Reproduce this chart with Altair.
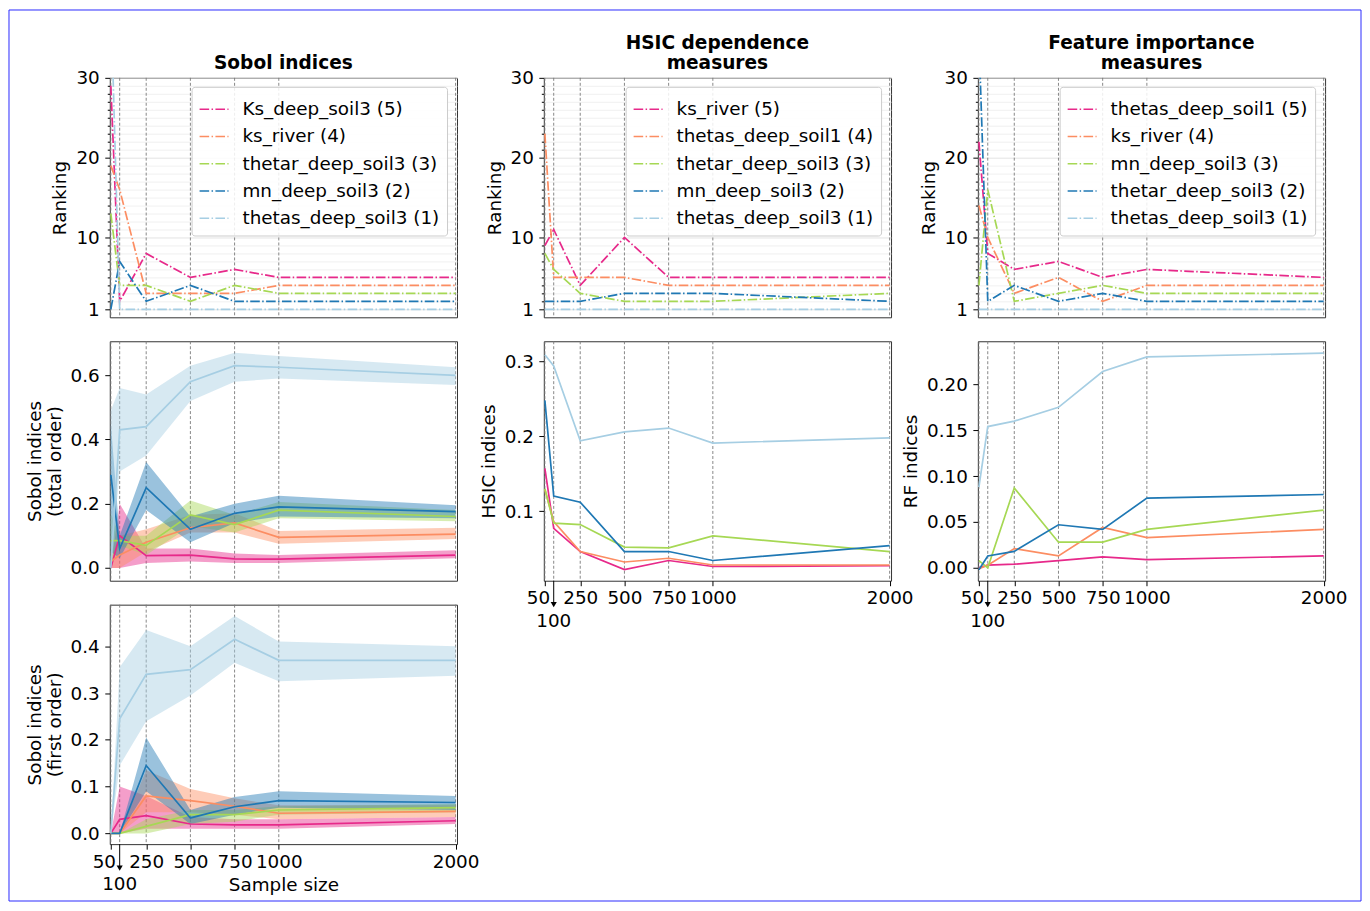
import altair as alt
import pandas as pd

FONT = "DejaVu Sans"
N = [50, 100, 250, 500, 750, 1000, 2000]
TICKS = [50, 250, 500, 750, 1000, 2000]
COLORS = ["#e7298a", "#fc8d62", "#a6d854", "#1f78b4", "#a6cee3"]

# ---------------- Sobol ----------------
SOBOL_LABELS = ["Ks_deep_soil3 (5)", "ks_river (4)", "thetar_deep_soil3 (3)",
                "mn_deep_soil3 (2)", "thetas_deep_soil3 (1)"]
sobol_rank_5 = [29, 2, 8, 5, 6, 5, 5]
sobol_rank_4 = [19, 16, 3, 3, 3, 4, 4]
sobol_rank_3 = [13, 4, 4, 2, 4, 3, 3]
sobol_rank_2 = [1, 7, 2, 4, 2, 2, 2]
sobol_rank_1 = [40, 1, 1, 1, 1, 1, 1]

st_5 = [0.0, 0.10, 0.038, 0.04, 0.028, 0.027, 0.04]
st_5_lo = [0.0, 0.0, 0.015, 0.02, 0.015, 0.015, 0.03]
st_5_hi = [0.0, 0.20, 0.06, 0.06, 0.045, 0.04, 0.055]
st_4 = [0.02, 0.04, 0.08, 0.125, 0.14, 0.095, 0.105]
st_4_lo = [0.0, 0.0, 0.05, 0.11, 0.11, 0.075, 0.09]
st_4_hi = [0.03, 0.10, 0.12, 0.165, 0.17, 0.115, 0.125]
st_3 = [0.085, 0.085, 0.07, 0.165, 0.135, 0.18, 0.16]
st_3_lo = [0.0, 0.07, 0.04, 0.13, 0.11, 0.155, 0.145]
st_3_hi = [0.17, 0.10, 0.10, 0.21, 0.165, 0.205, 0.18]
st_2 = [0.29, 0.06, 0.25, 0.12, 0.17, 0.19, 0.175]
st_2_lo = [0.05, 0.03, 0.18, 0.08, 0.14, 0.16, 0.155]
st_2_hi = [0.45, 0.10, 0.33, 0.16, 0.20, 0.225, 0.195]
st_1 = [0.0, 0.43, 0.44, 0.58, 0.63, 0.625, 0.60]
st_1_lo = [0.0, 0.30, 0.35, 0.52, 0.58, 0.59, 0.57]
st_1_hi = [0.49, 0.56, 0.54, 0.63, 0.67, 0.66, 0.625]

sf_5 = [0.0, 0.03, 0.038, 0.02, 0.018, 0.018, 0.027]
sf_5_lo = [0.0, 0.0, 0.01, 0.01, 0.01, 0.01, 0.02]
sf_5_hi = [0.0, 0.10, 0.08, 0.035, 0.03, 0.03, 0.035]
sf_4 = [0.0, 0.0, 0.08, 0.07, 0.058, 0.043, 0.047]
sf_4_lo = [0.0, 0.0, 0.045, 0.045, 0.04, 0.03, 0.035]
sf_4_hi = [0.0, 0.0, 0.135, 0.095, 0.075, 0.06, 0.06]
sf_3 = [0.0, 0.0, 0.015, 0.04, 0.04, 0.05, 0.055]
sf_3_lo = [0.0, 0.0, 0.0, 0.02, 0.025, 0.04, 0.045]
sf_3_hi = [0.0, 0.0, 0.03, 0.05, 0.05, 0.058, 0.063]
sf_2 = [0.0, 0.0, 0.145, 0.033, 0.057, 0.07, 0.066]
sf_2_lo = [0.0, 0.0, 0.09, 0.02, 0.04, 0.055, 0.05]
sf_2_hi = [0.0, 0.0, 0.205, 0.05, 0.078, 0.09, 0.08]
sf_1 = [0.0, 0.245, 0.34, 0.35, 0.415, 0.37, 0.37]
sf_1_lo = [0.0, 0.145, 0.24, 0.295, 0.365, 0.325, 0.337]
sf_1_hi = [0.0, 0.355, 0.435, 0.40, 0.465, 0.41, 0.40]

# ---------------- HSIC ----------------
HSIC_LABELS = ["ks_river (5)", "thetas_deep_soil1 (4)", "thetar_deep_soil3 (3)",
               "mn_deep_soil3 (2)", "thetas_deep_soil3 (1)"]
hsic_rank_5 = [9, 11, 4, 10, 5, 5, 5]
hsic_rank_4 = [23, 5, 5, 5, 4, 4, 4]
hsic_rank_3 = [8, 6, 3, 2, 2, 2, 3]
hsic_rank_2 = [2, 2, 2, 3, 3, 3, 2]
hsic_rank_1 = [1, 1, 1, 1, 1, 1, 1]

hsic_5 = [0.157, 0.077, 0.046, 0.022, 0.034, 0.026, 0.027]
hsic_4 = [0.129, 0.086, 0.046, 0.032, 0.037, 0.028, 0.028]
hsic_3 = [0.13, 0.084, 0.082, 0.052, 0.051, 0.067, 0.046]
hsic_2 = [0.248, 0.120, 0.112, 0.046, 0.046, 0.034, 0.054]
hsic_1 = [0.309, 0.294, 0.194, 0.206, 0.211, 0.191, 0.198]

# ---------------- RF ----------------
RF_LABELS = ["thetas_deep_soil1 (5)", "ks_river (4)", "mn_deep_soil3 (3)",
             "thetar_deep_soil3 (2)", "thetas_deep_soil3 (1)"]
rf_rank_5 = [22, 8, 6, 7, 5, 6, 5]
rf_rank_4 = [14, 10, 3, 5, 2, 4, 4]
rf_rank_3 = [4, 16, 2, 3, 4, 3, 3]
rf_rank_2 = [35, 2, 4, 2, 3, 2, 2]
rf_rank_1 = [1, 1, 1, 1, 1, 1, 1]

rf_5 = [0.0, 0.003, 0.004, 0.008, 0.012, 0.009, 0.013]
rf_4 = [-0.001, 0.003, 0.021, 0.013, 0.044, 0.033, 0.042]
rf_3 = [0.008, 0.0, 0.087, 0.028, 0.028, 0.042, 0.063]
rf_2 = [-0.002, 0.013, 0.018, 0.047, 0.042, 0.076, 0.080]
rf_1 = [0.088, 0.154, 0.160, 0.175, 0.214, 0.230, 0.234]

# ---------------- layout constants ----------------
W, H = 348, 240
XDOM = [44, 2008]
DASHDOT = [9.6, 2.4, 1.5, 2.4]
FS = 18.4


def make_df(labels, means, los=None, his=None):
    rows = []
    for k, lab in enumerate(labels):
        for i, n in enumerate(N):
            r = {"n": n, "label": lab, "k": k, "value": means[k][i]}
            if los is not None:
                r["lo"] = los[k][i]
                r["hi"] = his[k][i]
            rows.append(r)
    return pd.DataFrame(rows)


def xenc(show, title=None):
    scale = alt.Scale(domain=XDOM, nice=False, zero=False)
    if not show:
        return alt.X("n:Q", scale=scale, axis=None)
    axis = alt.Axis(values=TICKS, grid=False, tickSize=5, labelPadding=3,
                    labelExpr="'' + datum.value",
                    labelOffset={"condition": {"test": "datum.value == 50", "value": -7},
                                 "value": 0},
                    labelOverlap=False, labelFlush=False, titlePadding=5,
                    title=title if title else None)
    return alt.X("n:Q", scale=scale, axis=axis)


def vlines(show, title=None):
    return alt.Chart(pd.DataFrame({"n": N})).mark_rule(
        color="#7a7a7a", strokeWidth=0.9, strokeDash=[3, 2]
    ).encode(x=xenc(show, title))


def arrow_layers(title=None):
    d = pd.DataFrame({"n": [100]})
    base = alt.Chart(d)
    x = xenc(True, title)
    rule = base.mark_rule(color="black", strokeWidth=1).encode(
        x=x, y=alt.value(H), y2=alt.value(263))
    head = base.mark_point(shape="triangle-down", filled=True, size=38,
                           color="black", opacity=1).encode(x=x, y=alt.value(264))
    txt = base.mark_text(text="100", fontSize=FS, font=FONT, baseline="middle",
                         color="black").encode(x=x, y=alt.value(280))
    return [rule, head, txt]


def border_layer():
    # thin blue frame around the whole figure
    return alt.Chart(pd.DataFrame({"a": [0]})).mark_rect(
        filled=False, stroke="#2a2aff", strokeWidth=1
    ).encode(x=alt.value(-101), x2=alt.value(1254),
             y=alt.value(-596), y2=alt.value(297))


def rank_panel(labels, series, title):
    df = make_df(labels, series)
    major = "indexof([1,10,20,30], datum.value) >= 0"
    y = alt.Y("value:Q", scale=alt.Scale(domain=[0, 30], nice=False, zero=False),
              axis=alt.Axis(values=list(range(1, 31)), labelOverlap=False,
                            labelExpr="indexof([1,10,20,30], datum.value) >= 0 ? datum.label : ''",
                            grid=True, labelPadding=5.5,
                            gridColor={"condition": {"test": major, "value": "#dcdcdc"},
                                       "value": "#ececec"},
                            gridWidth=0.8,
                            tickSize={"condition": {"test": major, "value": 5},
                                      "value": 2.5},
                            title="Ranking", titlePadding=6))
    color = alt.Color("label:N", scale=alt.Scale(domain=labels, range=COLORS),
                      legend=alt.Legend(title=None, orient="none",
                                        legendX=82, legendY=9,
                                        fillColor="rgba(255,255,255,0.85)",
                                        strokeColor="#cccccc", cornerRadius=3,
                                        padding=7, symbolType="stroke",
                                        symbolSize=841, symbolStrokeWidth=1.7,
                                        symbolDash=DASHDOT, labelFontSize=FS,
                                        labelFont=FONT, labelColor="black",
                                        labelOffset=13, rowPadding=2.3,
                                        labelLimit=400))
    lines = alt.Chart(df).mark_line(strokeDash=DASHDOT, strokeWidth=1.7,
                                    clip=True).encode(
        x=xenc(False), y=y, color=color, order="n:Q")
    return alt.layer(vlines(False), lines).properties(
        width=W, height=H,
        title=alt.TitleParams(text=title, frame="group"))


def index_panel(labels, means, los, his, ytitle, ydom, yvals, yfmt,
                show_x, xtitle=None, band=True, extra=None):
    df = make_df(labels, means, los, his)
    ysc = alt.Scale(domain=ydom, nice=False, zero=False)
    yax = alt.Axis(values=yvals, format=yfmt, grid=False, tickSize=5,
                   labelPadding=5.5, title=ytitle, titlePadding=6,
                   titleLineHeight=20)
    color = alt.Color("label:N", scale=alt.Scale(domain=labels, range=COLORS),
                      legend=None)
    x = xenc(show_x, xtitle)
    layers = [vlines(show_x, xtitle)]
    if band:
        layers.append(alt.Chart(df).mark_area(opacity=0.45, clip=True).encode(
            x=x, y=alt.Y("lo:Q", scale=ysc, axis=yax), y2="hi:Q", color=color))
    layers.append(alt.Chart(df).mark_line(strokeWidth=1.7, clip=True).encode(
        x=x, y=alt.Y("value:Q", scale=ysc, axis=yax), color=color))
    if show_x:
        layers += arrow_layers(xtitle)
    if extra is not None:
        layers.append(extra)
    return alt.layer(*layers).properties(width=W, height=H)


r1 = rank_panel(SOBOL_LABELS, [sobol_rank_5, sobol_rank_4, sobol_rank_3,
                               sobol_rank_2, sobol_rank_1], ["Sobol indices"])
t1 = index_panel(SOBOL_LABELS, [st_5, st_4, st_3, st_2, st_1],
                 [st_5_lo, st_4_lo, st_3_lo, st_2_lo, st_1_lo],
                 [st_5_hi, st_4_hi, st_3_hi, st_2_hi, st_1_hi],
                 ["Sobol indices", "(total order)"], [-0.04, 0.706],
                 [0.0, 0.2, 0.4, 0.6], ".1f", False)
f1 = index_panel(SOBOL_LABELS, [sf_5, sf_4, sf_3, sf_2, sf_1],
                 [sf_5_lo, sf_4_lo, sf_3_lo, sf_2_lo, sf_1_lo],
                 [sf_5_hi, sf_4_hi, sf_3_hi, sf_2_hi, sf_1_hi],
                 ["Sobol indices", "(first order)"], [-0.023, 0.489],
                 [0.0, 0.1, 0.2, 0.3, 0.4], ".1f", True, "Sample size",
                 extra=border_layer())

r2 = rank_panel(HSIC_LABELS, [hsic_rank_5, hsic_rank_4, hsic_rank_3,
                              hsic_rank_2, hsic_rank_1],
                ["HSIC dependence", "measures"])
h2 = index_panel(HSIC_LABELS, [hsic_5, hsic_4, hsic_3, hsic_2, hsic_1],
                 None, None, "HSIC indices", [0.007, 0.327],
                 [0.1, 0.2, 0.3], ".1f", True, None, band=False)

r3 = rank_panel(RF_LABELS, [rf_rank_5, rf_rank_4, rf_rank_3,
                            rf_rank_2, rf_rank_1],
                ["Feature importance", "measures"])
h3 = index_panel(RF_LABELS, [rf_5, rf_4, rf_3, rf_2, rf_1],
                 None, None, "RF indices", [-0.014, 0.247],
                 [0.0, 0.05, 0.1, 0.15, 0.2], ".2f", True, None, band=False)


chart = alt.concat(r1, r2, r3, t1, h2, h3, f1, columns=3,
                   spacing={"row": 24, "column": 87}, bounds="flush").resolve_scale(
    color="independent").resolve_legend(color="independent").properties(
    padding=0
).configure(font=FONT).configure_view(
    stroke="#333333", strokeWidth=1
).configure_axis(
    labelFont=FONT, titleFont=FONT, labelFontSize=FS, titleFontSize=FS,
    labelColor="black", titleColor="black", tickColor="black",
    domain=False, titleFontWeight="normal"
).configure_title(
    font=FONT, fontSize=18.6, fontWeight="bold", anchor="middle", offset=-4,
    color="black", lineHeight=20
)

chart.save("out.html", embed_options={"renderer": "svg", "actions": False})
